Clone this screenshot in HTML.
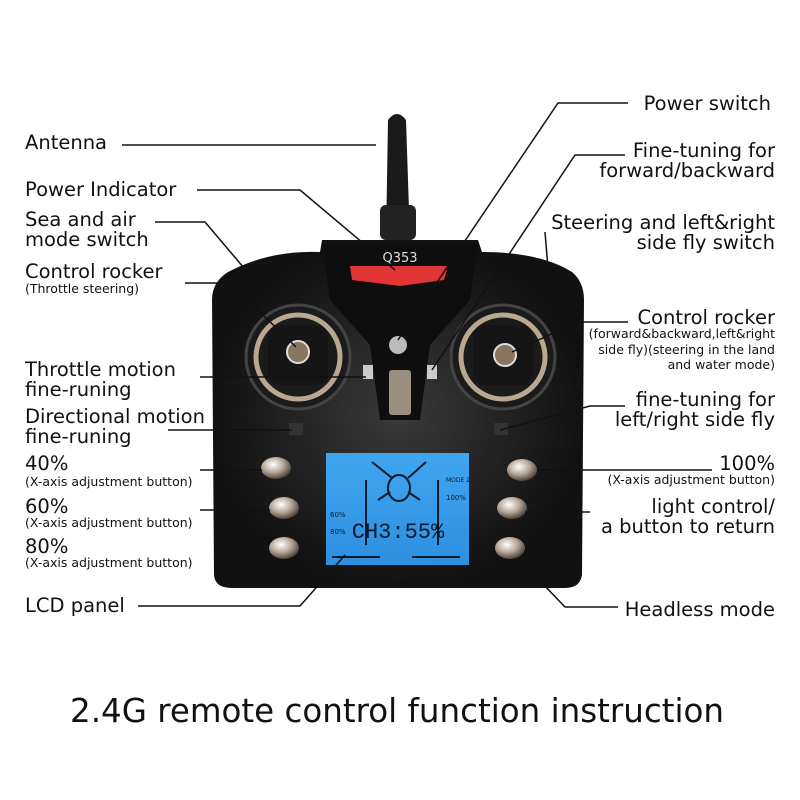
<!DOCTYPE html>
<html><head><meta charset="utf-8"><style>
body{margin:0;background:#fff}
svg{display:block}
text{font-family:"DejaVu Sans","Liberation Sans",sans-serif;fill:#111}
.l{font-size:19.5px}.s{font-size:12.5px}
</style></head><body>
<svg width="800" height="800" viewBox="0 0 800 800">
<defs>
<radialGradient id="rg" cx="50%" cy="50%" r="50%"><stop offset="0" stop-color="#3a3a3a"/><stop offset="1" stop-color="#111"/></radialGradient>
<linearGradient id="lcd" x1="0" y1="0" x2="0" y2="1"><stop offset="0" stop-color="#3fa6f0"/><stop offset="1" stop-color="#2d8fe0"/></linearGradient>
<radialGradient id="btn" cx="40%" cy="35%" r="70%"><stop offset="0" stop-color="#fff"/><stop offset=".5" stop-color="#b8a898"/><stop offset="1" stop-color="#3a332c"/></radialGradient>
</defs>
<path d="M388 120 Q397 108 406 120 L410 240 L386 240 Z" fill="#1a1a1a"/>
<rect x="380" y="205" width="36" height="35" rx="6" fill="#222"/>
<path d="M228 272 Q270 250 320 252 L322 240 L478 240 L482 252 Q540 252 572 272 Q584 282 584 300 L582 575 Q580 588 565 588 L232 588 Q215 588 214 575 L212 300 Q212 282 228 272 Z" fill="url(#rg)"/>
<path d="M322 244 L478 244 L470 300 L430 345 L420 420 L380 420 L370 345 L330 300 Z" fill="#0e0e0e"/>
<text x="400" y="262" text-anchor="middle" style="font-size:13px;fill:#ddd">Q353</text>
<path d="M350 266 L448 266 L444 280 L400 286 L352 280 Z" fill="#e23535"/>
<g>
<circle cx="298" cy="357" r="52" fill="#1b1b1b" stroke="#444" stroke-width="3"/>
<circle cx="298" cy="357" r="42" fill="none" stroke="#b9a890" stroke-width="5"/>
<rect x="268" y="325" width="60" height="60" rx="12" fill="#151515"/>
<circle cx="298" cy="352" r="11" fill="#8a7560" stroke="#ddd" stroke-width="2"/>
<circle cx="503" cy="357" r="52" fill="#1b1b1b" stroke="#444" stroke-width="3"/>
<circle cx="503" cy="357" r="42" fill="none" stroke="#b9a890" stroke-width="5"/>
<rect x="473" y="325" width="60" height="60" rx="12" fill="#151515"/>
<circle cx="505" cy="355" r="11" fill="#8a7560" stroke="#ddd" stroke-width="2"/>
</g>
<circle cx="398" cy="345" r="9" fill="#bbb"/>
<rect x="389" y="370" width="22" height="45" rx="3" fill="#9a8e80"/>
<rect x="363" y="365" width="10" height="14" fill="#ccc"/><rect x="427" y="365" width="10" height="14" fill="#ccc"/>
<rect x="289" y="423" width="14" height="12" fill="#333"/><rect x="494" y="423" width="14" height="12" fill="#333"/>
<g fill="url(#btn)">
<ellipse cx="276" cy="468" rx="15" ry="11"/><ellipse cx="284" cy="508" rx="15" ry="11"/><ellipse cx="284" cy="548" rx="15" ry="11"/>
<ellipse cx="522" cy="470" rx="15" ry="11"/><ellipse cx="512" cy="508" rx="15" ry="11"/><ellipse cx="510" cy="548" rx="15" ry="11"/>
</g>
<rect x="326" y="453" width="143" height="112" fill="url(#lcd)"/>
<g stroke="#0a1a2a" stroke-width="2" fill="none">
<line x1="366" y1="480" x2="366" y2="545"/><line x1="438" y1="480" x2="438" y2="545"/>
<line x1="332" y1="557" x2="380" y2="557"/><line x1="412" y1="557" x2="460" y2="557"/>
<line x1="372" y1="462" x2="392" y2="478"/><line x1="426" y1="462" x2="408" y2="478"/>
<line x1="378" y1="500" x2="390" y2="492"/><line x1="420" y1="500" x2="408" y2="492"/>
</g>
<ellipse cx="399" cy="488" rx="11" ry="13" fill="none" stroke="#0a1a2a" stroke-width="2"/>
<text x="398" y="538" text-anchor="middle" style="font-size:22px;font-family:'Liberation Mono',monospace;fill:#0a1a2a">CH3:55%</text>
<text x="330" y="517" style="font-size:7px;fill:#0a1a2a">60%</text><text x="330" y="534" style="font-size:7px;fill:#0a1a2a">80%</text>
<text x="446" y="482" style="font-size:6px;fill:#0a1a2a">MODE 2</text><text x="446" y="500" style="font-size:7px;fill:#0a1a2a">100%</text>
<g stroke="#111" stroke-width="1.5" fill="none">
<path d="M122 145 L376 145"/>
<path d="M197 190 L300 190 L395 270"/>
<path d="M155 222 L205 222 L244 268"/>
<path d="M185 283 L230 283 L296 347"/>
<path d="M200 377 L366 377"/>
<path d="M168 430 L292 430"/>
<path d="M200 470 L262 470"/>
<path d="M200 510 L270 510"/>
<path d="M138 606 L300 606 L345 555"/>
<path d="M628 103 L558 103 L398 340"/>
<path d="M625 155 L575 155 L432 370"/>
<path d="M545 232 L548 268"/>
<path d="M628 322 L578 322 L512 352"/>
<path d="M625 406 L590 406 L500 430"/>
<path d="M712 470 L537 470"/>
<path d="M590 512 L525 512"/>
<path d="M618 607 L565 607 L520 560"/>
</g>
<text class="l" x="25" y="149">Antenna</text>
<text class="l" x="25" y="196">Power Indicator</text>
<text class="l" x="25" y="226">Sea and air</text>
<text class="l" x="25" y="246">mode switch</text>
<text class="l" x="25" y="278">Control rocker</text>
<text class="s" x="25" y="293">(Throttle steering)</text>
<text class="l" x="25" y="376">Throttle motion</text>
<text class="l" x="25" y="396">fine-runing</text>
<text class="l" x="25" y="423">Directional motion</text>
<text class="l" x="25" y="443">fine-runing</text>
<text class="l" x="25" y="470">40%</text>
<text class="s" x="25" y="486">(X-axis adjustment button)</text>
<text class="l" x="25" y="513">60%</text>
<text class="s" x="25" y="527">(X-axis adjustment button)</text>
<text class="l" x="25" y="553">80%</text>
<text class="s" x="25" y="567">(X-axis adjustment button)</text>
<text class="l" x="25" y="612">LCD panel</text>
<g text-anchor="end">
<text class="l" x="771" y="110">Power switch</text>
<text class="l" x="775" y="157">Fine-tuning for</text>
<text class="l" x="775" y="177">forward/backward</text>
<text class="l" x="775" y="229">Steering and left&amp;right</text>
<text class="l" x="775" y="249">side fly switch</text>
<text class="l" x="775" y="324">Control rocker</text>
<text class="s" x="775" y="338">(forward&amp;backward,left&amp;right</text>
<text class="s" x="775" y="354">side fly)(steering in the land</text>
<text class="s" x="775" y="369">and water mode)</text>
<text class="l" x="775" y="406">fine-tuning for</text>
<text class="l" x="775" y="426">left/right side fly</text>
<text class="l" x="775" y="470">100%</text>
<text class="s" x="775" y="484">(X-axis adjustment button)</text>
<text class="l" x="775" y="513">light control/</text>
<text class="l" x="775" y="533">a button to return</text>
<text class="l" x="775" y="616">Headless mode</text>
</g>
<text x="397" y="722" text-anchor="middle" style="font-size:32.5px">2.4G remote control function instruction</text>
</svg>
</body></html>
